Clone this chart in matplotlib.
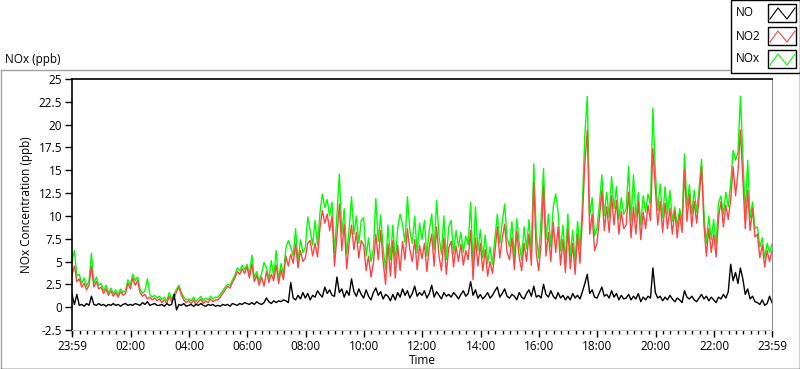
import numpy as np
import matplotlib
matplotlib.use("Agg")
import matplotlib.pyplot as plt
from matplotlib.lines import Line2D
from matplotlib.patches import Rectangle

plt.rcParams['font.family'] = ['Open Sans', 'DejaVu Sans']

# ---------------- data (5-minute samples, minutes from 23:59) ----------------
step_min = 5
no2 = [
    3.6, 4.5, 2.8, 3.1, 2.2, 2.6, 1.9, 2.4, 4.5, 2.2, 2.8, 2.0,
    2.2, 1.5, 2.0, 1.3, 1.8, 1.2, 1.6, 1.1, 1.7, 1.3, 1.5, 2.6,
    2.0, 3.2, 2.4, 2.9, 1.6, 1.2, 1.4, 0.9, 1.1, 0.8, 1.0, 0.7,
    0.9, 0.5, 0.8, 0.4, 1.2, 0.6, 1.0, 1.7, 2.2, 1.3, 0.8, 0.5,
    0.7, 0.4, 0.8, 0.3, 0.6, 0.9, 0.4, 0.7, 0.5, 0.9, 0.6, 0.8,
    0.8, 1.1, 1.5, 1.9, 2.3, 2.1, 2.7, 3.2, 3.9, 3.6, 4.2, 3.7,
    4.4, 3.2, 4.7, 2.8, 3.5, 2.4, 3.3, 2.3, 3.9, 2.7, 3.6, 2.9,
    4.6, 2.6, 4.1, 3.0, 5.6, 4.5, 5.8, 4.8, 6.9, 4.3, 6.2, 5.0,
    5.4, 7.0, 7.3, 5.6, 7.0, 5.5, 8.6, 10.6, 9.2, 10.2, 8.4, 10.0,
    4.5, 7.8, 11.3, 6.2, 9.1, 4.2, 7.0, 9.0, 6.3, 8.2, 5.4, 7.3,
    6.8, 4.0, 5.6, 3.3, 4.8, 8.0, 5.2, 8.4, 5.0, 2.5, 6.9, 3.4,
    7.3, 3.2, 6.8, 4.0, 7.2, 5.2, 8.6, 6.3, 5.0, 7.4, 4.1, 6.8,
    5.3, 7.0, 3.9, 6.6, 8.0, 4.5, 8.8, 5.6, 4.0, 7.6, 3.6, 6.5,
    7.2, 4.4, 6.7, 5.0, 6.9, 4.6, 6.2, 5.2, 8.4, 3.0, 7.6, 4.5,
    7.0, 4.0, 6.3, 3.4, 5.0, 3.7, 6.0, 8.8, 5.4, 7.5, 9.1, 6.0,
    5.2, 7.6, 4.1, 8.3, 5.5, 4.0, 7.0, 5.0, 8.0, 4.6, 13.7, 6.0,
    4.0, 7.0, 13.2, 5.6, 8.2, 5.0, 9.3, 6.0, 8.8, 4.6, 7.4, 3.8,
    8.6, 4.2, 7.0, 3.6, 8.0, 4.8, 9.8, 15.7, 19.4, 8.0, 10.2, 6.2,
    7.0, 9.8, 12.8, 8.4, 11.0, 8.2, 12.2, 9.0, 11.7, 8.0, 10.5, 8.6,
    9.0, 12.6, 7.6, 11.0, 8.0, 11.6, 7.4, 10.4, 8.6, 11.2, 9.5, 17.4,
    13.0, 9.0, 11.6, 8.2, 11.4, 8.6, 10.8, 8.0, 10.6, 7.6, 10.2, 8.2,
    15.0, 9.4, 12.4, 8.8, 11.6, 9.2, 12.0, 15.4, 9.0, 5.6, 8.6, 6.0,
    8.0, 5.5, 9.8, 11.6, 8.8, 11.2, 9.6, 11.8, 15.4, 12.2, 14.8, 19.4,
    13.9, 8.6, 12.8, 8.4, 10.8, 7.7, 8.0, 5.4, 6.8, 4.4, 6.2, 5.0, 6.2,
]
nox = [
    5.1, 6.2, 3.4, 3.6, 2.6, 3.2, 2.3, 2.9, 5.9, 2.6, 3.3, 2.4,
    2.6, 1.8, 2.4, 1.6, 2.1, 1.5, 1.9, 1.4, 2.0, 1.6, 1.8, 3.0,
    2.4, 3.6, 2.9, 3.3, 2.0, 1.5, 1.8, 3.1, 1.4, 1.1, 1.3, 1.0,
    1.2, 0.8, 1.1, 0.7, 1.6, 0.9, 1.4, 2.0, 2.4, 1.6, 1.1, 0.8,
    0.9, 0.7, 1.1, 0.6, 0.9, 1.2, 0.7, 1.0, 0.8, 1.2, 0.9, 1.1,
    1.1, 1.4, 1.8, 2.2, 2.5, 2.4, 3.0, 3.5, 4.3, 4.0, 4.6, 4.1,
    4.7, 3.6, 5.7, 3.2, 3.9, 2.8, 3.7, 4.9, 4.3, 3.1, 5.1, 3.3,
    6.2, 3.0, 4.8, 3.6, 6.5, 7.3, 6.6, 5.6, 8.6, 5.0, 7.4, 6.0,
    6.5, 9.9, 8.4, 6.8, 9.5, 6.8, 10.3, 12.4, 10.9, 11.8, 10.0, 11.5,
    6.0, 10.1, 14.6, 8.0, 10.8, 5.8, 8.5, 12.1, 8.0, 10.0, 7.0, 9.5,
    9.8, 5.6, 7.6, 5.0, 6.4, 11.9, 7.2, 10.1, 6.5, 4.1, 9.0, 5.2,
    9.0, 4.8, 8.7, 10.2, 9.0, 7.1, 12.1, 8.4, 7.0, 10.0, 5.9, 9.2,
    7.4, 9.5, 5.6, 8.5, 10.2, 6.3, 11.7, 7.8, 5.8, 10.0, 5.2, 8.8,
    9.5, 5.8, 8.4, 6.6, 8.2, 6.0, 7.8, 6.8, 11.5, 4.5, 11.0, 6.2,
    8.5, 5.4, 7.9, 4.8, 6.6, 4.7, 7.6, 10.2, 7.0, 9.3, 11.3, 7.6,
    6.6, 9.4, 5.4, 9.7, 7.1, 5.2, 8.8, 6.4, 9.6, 6.0, 15.7, 8.2,
    5.4, 9.8, 15.2, 7.4, 10.2, 6.6, 11.0, 12.4, 10.4, 6.2, 9.0, 5.0,
    10.2, 5.6, 8.4, 5.0, 9.4, 6.4, 11.3, 18.9, 23.1, 10.0, 12.0, 7.8,
    8.6, 11.4, 14.5, 10.0, 12.6, 9.8, 14.3, 10.8, 13.2, 9.6, 12.0, 10.2,
    10.8, 15.4, 9.4, 14.5, 9.8, 12.6, 9.0, 12.2, 10.4, 12.4, 11.2, 21.8,
    14.8, 10.6, 13.5, 9.8, 13.2, 10.2, 12.8, 9.4, 11.0, 8.8, 10.8, 9.4,
    16.8, 11.0, 13.4, 10.2, 12.8, 10.4, 13.0, 16.2, 10.4, 7.0, 10.0, 7.4,
    9.6, 6.8, 11.4, 12.2, 10.2, 12.6, 11.0, 13.6, 17.2, 16.1, 17.0, 23.1,
    16.6, 10.2, 16.1, 9.8, 11.5, 8.6, 8.8, 6.6, 7.6, 5.4, 7.0, 6.0, 6.9,
]
no = [
    1.4, 0.3, 1.4, 0.2, 0.3, 0.1, 0.4, 0.2, 1.2, 0.3, 0.2, 0.4,
    0.2, 0.3, 0.1, 0.3, 0.2, 0.4, 0.2, 0.3, 0.1, 0.3, 0.4, 0.2,
    0.3, 0.2, 0.4, 0.3, 0.2, 0.5, 0.3, 0.6, 0.2, 0.3, 0.4, 0.2,
    0.2, 0.3, 0.1, 0.4, 0.2, 0.3, 1.4, -0.3, 0.3, 0.2, 0.4, 0.1,
    0.2, 0.3, 0.1, 0.3, 0.2, 0.4, 0.2, 0.1, 0.3, 0.2, 0.3, 0.1,
    0.2, 0.1, 0.3, 0.2, 0.3, 0.1, 0.4, 0.3, 0.2, 0.4, 0.3, 0.5,
    0.4, 0.3, 0.5, 0.3, 0.6, 0.4, 0.3, 0.5, 1.0, 0.6, 0.4, 0.7,
    0.5, 0.7, 0.6, 0.8, 0.7, 0.5, 2.7, 1.0, 0.8, 1.3, 0.9, 1.6,
    1.0, 1.5, 0.8, 1.3, 1.1, 1.8, 1.4, 1.1, 2.2, 1.5, 1.9, 1.3,
    1.2, 3.3, 1.6, 2.0, 1.1, 1.8, 1.3, 3.1, 1.7, 1.2, 2.0, 1.4,
    1.0, 1.9, 1.2, 0.8, 1.6, 2.1, 1.3, 1.7, 0.9, 1.4, 1.2, 0.7,
    1.4, 0.8, 1.6, 1.1, 2.0, 1.3, 1.8, 1.0, 1.5, 2.3, 1.2, 1.6,
    1.3, 1.8, 1.0, 1.5, 2.4, 1.1, 1.7, 1.3, 0.9, 1.6, 1.2, 1.4,
    1.1, 1.6, 1.3, 0.9, 1.4, 1.8, 1.2, 1.5, 2.8, 1.3, 1.9, 1.0,
    1.4, 0.9, 1.2, 1.6, 1.0, 1.3, 1.8, 2.2, 1.1, 1.5, 2.0, 1.2,
    1.0, 1.4, 1.2, 0.8, 1.6, 1.1, 0.9, 1.5, 1.9, 1.2, 2.3, 1.1,
    1.3, 1.0, 2.5, 1.4, 1.1, 1.8, 1.2, 0.9, 1.6, 1.0, 1.3, 0.8,
    1.2, 0.8, 1.5, 1.0, 1.3, 0.9, 1.7, 2.6, 3.6, 1.5, 1.9, 1.1,
    1.0, 1.6, 2.2, 1.2, 1.4, 1.0, 1.8, 1.1, 1.5, 0.8, 1.3, 0.9,
    1.0, 1.4, 0.8, 1.2, 0.9, 1.5, 0.6, 1.1, 0.8, 1.2, 1.0, 4.3,
    1.6, 1.0, 1.2, 0.7, 1.1, 0.8, 1.3, 0.9, 0.6, 1.0, 0.8, 0.5,
    1.8, 1.1, 0.9, 1.2, 0.8, 0.6, 1.0, 1.4, 0.9, 1.2, 0.7, 1.1,
    0.8, 0.5, 1.1, 0.9, 1.4, 1.0, 1.7, 4.7, 2.9, 3.8, 2.6, 4.3,
    3.1, 1.4, 2.0, 0.9, 1.2, 0.6, 0.5, 0.3, 0.8, 0.2, 0.4, 1.2, 0.5,
]
tick_labels = ["23:59", "02:00", "04:00", "06:00", "08:00", "10:00", "12:00",
               "14:00", "16:00", "18:00", "20:00", "22:00", "23:59"]
tick_minutes = [0, 121, 241, 361, 481, 601, 721, 841, 961, 1081, 1201, 1321, 1440]
y_ticks = [-2.5, 0, 2.5, 5, 7.5, 10, 12.5, 15, 17.5, 20, 22.5, 25]
series_names = ["NO", "NO2", "NOx"]
series_colors = ["#000000", "#ff4444", "#00ff00"]

t = np.arange(len(no2)) * step_min

# ---------------- figure ----------------
W, H = 800, 369
fig = plt.figure(figsize=(W / 100, H / 100), dpi=100)
fig.patch.set_facecolor("white")

def fx(px):
    return px / W

def fy(py):
    return 1 - py / H

# outer panel frame
fig.add_artist(Line2D([fx(0.5), fx(730)], [fy(69.5), fy(69.5)], color="#a0a0a0", lw=1))
fig.add_artist(Line2D([fx(0.5), fx(0.5)], [fy(69.5), fy(368.5)], color="#a0a0a0", lw=1))
fig.add_artist(Line2D([fx(0.5), fx(799.5)], [fy(368.5), fy(368.5)], color="black", lw=1))
fig.add_artist(Line2D([fx(799.5), fx(799.5)], [fy(72), fy(368.5)], color="black", lw=1))

fig.text(fx(5), fy(60), "NOx (ppb)", fontsize=8.5, ha="left", va="center")

# legend box
fig.add_artist(Rectangle((fx(730.5), fy(72.5)), fx(69), 72.5 / H, transform=fig.transFigure,
                         facecolor="white", edgecolor="black", lw=1))
box_tops = [4, 27, 50]
text_y = [13, 36, 59]
for name, col, bt, ty in zip(series_names, series_colors, box_tops, text_y):
    fig.text(fx(736), fy(ty), name, fontsize=8.5, ha="left", va="center")
    fig.add_artist(Rectangle((fx(768), fy(bt + 18)), fx(28), 18 / H, transform=fig.transFigure,
                             facecolor="white", edgecolor="black", lw=1))
    xs = [770, 778, 787, 795]
    ys = [bt + 15, bt + 4, bt + 15, bt + 4]
    fig.add_artist(Line2D([fx(v) for v in xs], [fy(v) for v in ys], color=col, lw=0.8))

# axes
ax = fig.add_axes([fx(72), fy(330), fx(772 - 72), (330 - 79) / H])
ax.set_facecolor("white")
ax.plot(t, nox, color=series_colors[2], lw=1.0)
ax.plot(t, no2, color=series_colors[1], lw=1.0)
ax.plot(t, no, color=series_colors[0], lw=1.0)

ax.set_xlim(0, 1440)
ax.set_ylim(-2.5, 25)
ax.set_yticks(y_ticks)
ax.set_yticklabels([("%g" % v) for v in y_ticks])
ax.set_xticks(tick_minutes)
ax.set_xticklabels(tick_labels)
ax.set_xticks(np.arange(1, 1440, 15), minor=True)
ax.tick_params(axis="both", which="major", labelsize=8.5, direction="out", length=5, width=1, color="black", pad=2)
ax.tick_params(axis="x", which="minor", direction="out", length=3, width=1, color="black")
for s in ["left", "top"]:
    ax.spines[s].set_color("black")
    ax.spines[s].set_linewidth(1.2)
ax.spines["right"].set_color("#909090")
ax.spines["bottom"].set_color("#c8c8c8")

ax.set_ylabel("NOx Concentration (ppb)", fontsize=8.5, labelpad=4)
ax.set_xlabel("Time", fontsize=8.5, labelpad=1)

fig.savefig("out.png", dpi=100)
